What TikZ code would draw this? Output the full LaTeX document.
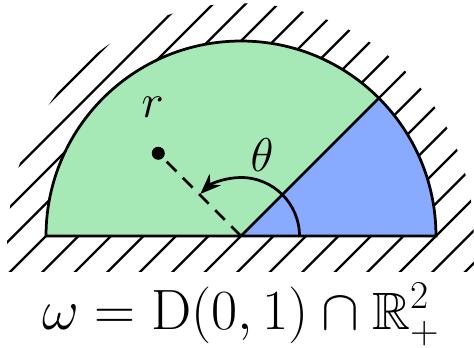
\documentclass[tikz,border=0pt]{standalone}
\usepackage{amssymb}
\usetikzlibrary{arrows.meta}
\definecolor{lgreen}{RGB}{166,233,182}
\definecolor{lblue}{RGB}{136,170,255}
\begin{document}
\begin{tikzpicture}[
  hatch/.style={line width=1pt},
  edge/.style={line width=1.2pt},
  lbl/.style={inner sep=0pt,font=\fontsize{22}{26}\selectfont},
  caplbl/.style={inner sep=0pt,font=\fontsize{23}{27}\selectfont}
]
\useasboundingbox (-3.708,-1.723) rectangle (3.585,3.631);
\coordinate (O) at (0,0);
\begin{scope}
  \clip (3.58,0) arc[start angle=0,end angle=180,radius=3.58] -- (-3,0) arc[start angle=180,end angle=0,radius=3] -- cycle;
  \foreach \k in {-16,...,16} \draw[hatch] ({0.5*\k-4},-4) -- ({0.5*\k+4},4);
\end{scope}
\begin{scope}
  \clip (-3.6,-0.55) rectangle (3.6,0);
  \foreach \k in {-16,...,16} \draw[hatch] ({0.5*\k-4},-4) -- ({0.5*\k+4},4);
\end{scope}
\fill[lgreen] (3,0) arc[start angle=0,end angle=180,radius=3] -- cycle;
\fill[lblue] (O) -- (3,0) arc[start angle=0,end angle=45,radius=3] -- cycle;
\coordinate (E) at (45:3);
\draw[edge] (O) -- (E);
\draw[edge] (3,0) arc[start angle=0,end angle=180,radius=3] -- cycle;
\node[circle,fill,inner sep=0pt,minimum size=0.2cm] (r) at (135:1.8) {};
\draw[edge,dash pattern=on 6pt off 4pt] (O) -- (r);
\draw[edge,-{Stealth[length=9pt,width=7pt]}] (0.9,0) arc[start angle=0,end angle=134,radius=0.9];
\node[lbl] (rl) at (-1.36,1.985) {$r$};
\node[lbl] (th) at (0.323,1.25) {$\theta$};
\node[caplbl,anchor=base] (cap) at (0,-1.44) {$\omega = \mathrm{D}(0,1)\cap\mathbb{R}^2_+$};
\end{tikzpicture}
\end{document}
